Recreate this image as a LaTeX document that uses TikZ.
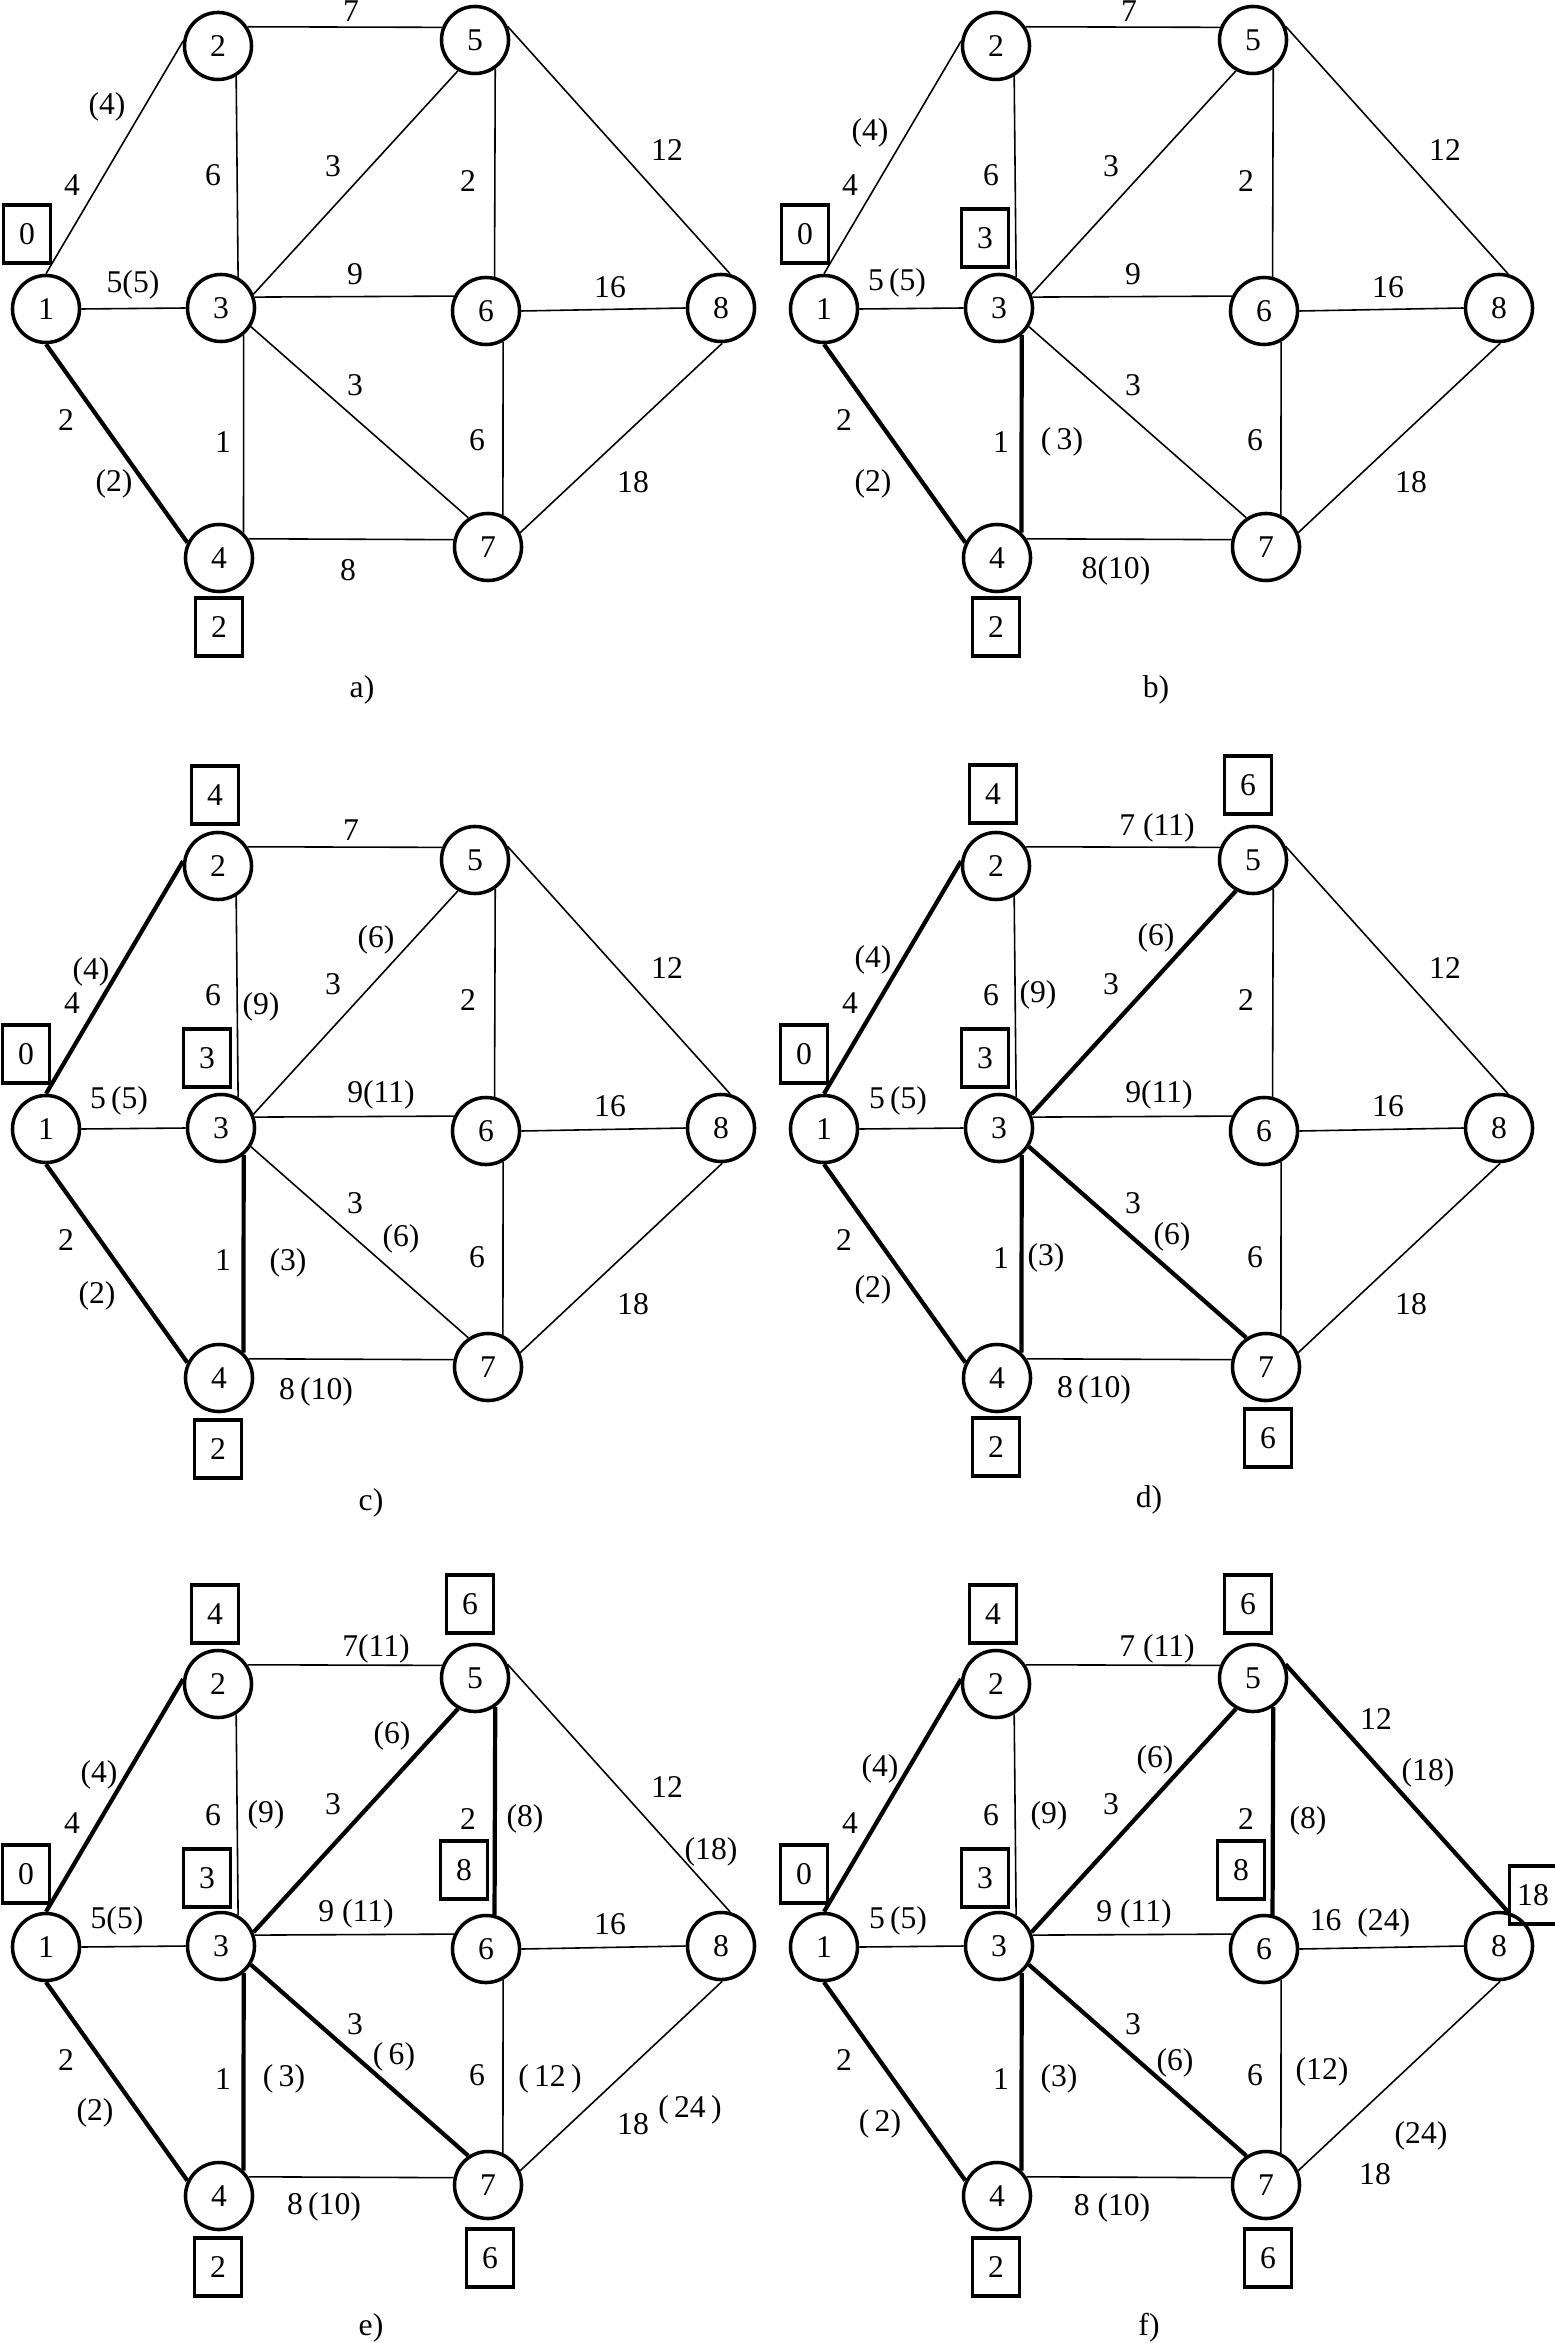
\documentclass[tikz,border=0pt]{standalone}
\usepackage{fontspec}
\setmainfont{Liberation Serif}

\tikzset{
  vtx/.style={circle,draw,line width=1pt,minimum size=0.67cm,inner sep=0pt},
  valbox/.style={rectangle,draw,line width=1pt,minimum width=0.47cm,minimum height=0.58cm,inner sep=0pt},
  lbl/.style={inner sep=1pt},
  arc/.style={line width=0.45pt},
  tree/.style={line width=1.2pt},
  e12/.style={}, e13/.style={}, e14/.style={}, e25/.style={}, e23/.style={},
  e35/.style={}, e36/.style={}, e37/.style={}, e34/.style={}, e47/.style={},
  e56/.style={}, e58/.style={}, e68/.style={}, e67/.style={}, e78/.style={},
}

% nodes and edges of one panel, prefix #1
\newcommand{\basenet}[1]{%
  \node[vtx] (#1n1) at (46,309) {1};
  \node[vtx] (#1n2) at (218,46) {2};
  \node[vtx] (#1n5) at (475,40) {5};
  \node[vtx] (#1n3) at (221,308) {3};
  \node[vtx] (#1n6) at (486,311) {6};
  \node[vtx] (#1n8) at (721,308) {8};
  \node[vtx] (#1n4) at (219,558) {4};
  \node[vtx] (#1n7) at (488,547) {7};
  \draw[arc,e12] (#1n1.90) -- (#1n2.172);
  \draw[arc,e13] (#1n1.east) -- (#1n3.west);
  \draw[arc,e14] (#1n1.-90) -- (#1n4.154);
  \draw[arc,e25] (#1n2.33) -- (#1n5.159);
  \draw[arc,e23] (#1n2.-59) -- (#1n3.61);
  \draw[arc,e35] (#1n3.23) -- (#1n5.-119);
  \draw[arc,e36] (#1n3.18) -- (#1n6.155);
  \draw[arc,e37] (#1n3.-32) -- (#1n7.124);
  \draw[arc,e34] (#1n3.-50) -- (#1n4.46);
  \draw[arc,e47] (#1n4.33) -- (#1n7.168);
  \draw[arc,e56] (#1n5.-55) -- (#1n6.76);
  \draw[arc,e58] (#1n5.23) -- (#1n8.75);
  \draw[arc,e68] (#1n6.east) -- (#1n8.west);
  \draw[arc,e67] (#1n6.-61) -- (#1n7.65);
  \draw[arc,e78] (#1n7.24) -- (#1n8.-88);
}

\begin{document}
\begin{tikzpicture}[x=0.01cm,y=-0.01cm,font=\fontsize{9}{11}\selectfont]
  \useasboundingbox (0,0) rectangle (1554,2343);

  % a)
  \begin{scope}[e14/.style=tree]
    \basenet{a}
    \node[lbl] (aw25) at (351,11) {7};
    \node[lbl] (ad12) at (107,107) {(4)};
    \node[lbl] (aw12) at (72,185) {4};
    \node[lbl] (aw13) at (133,285) {5(5)};
    \node[lbl] (aw23) at (213,175) {6};
    \node[lbl] (aw35) at (333,166) {3};
    \node[lbl] (aw56) at (468,181) {2};
    \node[lbl] (aw58) at (667,150) {12};
    \node[lbl] (aw36) at (355,274) {9};
    \node[lbl] (aw68) at (610,287) {16};
    \node[lbl] (aw37) at (355,385) {3};
    \node[lbl] (aw14) at (66,420) {2};
    \node[lbl] (aw34) at (223,442) {1};
    \node[lbl] (ad14) at (114,484) {(2)};
    \node[lbl] (aw67) at (477,440) {6};
    \node[lbl] (aw78) at (633,482) {18};
    \node[lbl] (aw47) at (348,570) {8};
    \node[valbox] (ab1) at (27,234) {0};
    \node[valbox] (ab4) at (219,627) {2};
    \node (acap) at (362,690) {a)};
  \end{scope}

  % b)
  \begin{scope}[shift={(778,0)},e14/.style=tree,e34/.style=tree]
    \basenet{b}
    \node[lbl] (bw25) at (351,11) {7};
    \node[lbl] (bd12) at (92,133) {(4)};
    \node[lbl] (bw12) at (72,185) {4};
    \node[lbl] (bw13) at (119,283) {5\,(5)};
    \node[lbl] (bw23) at (213,175) {6};
    \node[lbl] (bw35) at (333,166) {3};
    \node[lbl] (bw56) at (468,181) {2};
    \node[lbl] (bw58) at (667,150) {12};
    \node[lbl] (bw36) at (355,274) {9};
    \node[lbl] (bw68) at (610,287) {16};
    \node[lbl] (bw37) at (355,385) {3};
    \node[lbl] (bw14) at (66,420) {2};
    \node[lbl] (bw34) at (223,442) {1};
    \node[lbl] (bd34) at (284,442) {(\,3)};
    \node[lbl] (bd14) at (95,484) {(2)};
    \node[lbl] (bw67) at (477,440) {6};
    \node[lbl] (bw78) at (633,482) {18};
    \node[lbl] (bw47) at (338,571) {8(10)};
    \node[valbox] (bb1) at (27,234) {0};
    \node[valbox] (bb3) at (207,238) {3};
    \node[valbox] (bb4) at (218,627) {2};
    \node (bcap) at (378,690) {b)};
  \end{scope}

  % c)
  \begin{scope}[shift={(0,820)},e12/.style=tree,e14/.style=tree,e34/.style=tree]
    \basenet{c}
    \node[valbox] (cb2) at (215,-25) {4};
    \node[lbl] (cw25) at (351,10) {7};
    \node[lbl] (cd12) at (91,152) {(4)};
    \node[lbl] (cw12) at (72,183) {4};
    \node[lbl] (cw23) at (213,175) {6};
    \node[lbl] (cd23) at (261,187) {(9)};
    \node[lbl] (cd35) at (376,120) {(6)};
    \node[lbl] (cw35) at (333,164) {3};
    \node[lbl] (cw58) at (667,148) {12};
    \node[lbl] (cw56) at (468,180) {2};
    \node[lbl] (cw13) at (119,281) {5\,(5)};
    \node[lbl] (cw36) at (381,275) {9(11)};
    \node[lbl] (cw68) at (610,286) {16};
    \node[lbl] (cw37) at (355,383) {3};
    \node[lbl] (cd37) at (401,419) {(6)};
    \node[lbl] (cw14) at (66,420) {2};
    \node[lbl] (cw34) at (223,440) {1};
    \node[lbl] (cd34) at (288,443) {(3)};
    \node[lbl] (cw67) at (477,437) {6};
    \node[lbl] (cd14) at (97,476) {(2)};
    \node[lbl] (cw78) at (633,484) {18};
    \node[lbl] (cw47) at (316,572) {8\,(10)};
    \node[valbox] (cb1) at (26,234) {0};
    \node[valbox] (cb3) at (207,238) {3};
    \node[valbox] (cb4) at (218,629) {2};
    \node (ccap) at (371,683) {c)};
  \end{scope}

  % d)
  \begin{scope}[shift={(778,820)},e12/.style=tree,e14/.style=tree,e34/.style=tree,
                e35/.style=tree,e37/.style=tree]
    \basenet{d}
    \node[valbox] (db2) at (215,-26) {4};
    \node[valbox] (db5) at (470,-35) {6};
    \node[lbl] (dw25) at (379,8) {7 (11)};
    \node[lbl] (dd12) at (95,140) {(4)};
    \node[lbl] (dw12) at (72,183) {4};
    \node[lbl] (dw23) at (213,175) {6};
    \node[lbl] (dd23) at (260,175) {(9)};
    \node[lbl] (dd35) at (378,118) {(6)};
    \node[lbl] (dw35) at (333,164) {3};
    \node[lbl] (dw58) at (667,148) {12};
    \node[lbl] (dw56) at (468,180) {2};
    \node[lbl] (dw13) at (120,281) {5\,(5)};
    \node[lbl] (dw36) at (381,275) {9(11)};
    \node[lbl] (dw68) at (610,286) {16};
    \node[lbl] (dw37) at (355,383) {3};
    \node[lbl] (dd37) at (394,417) {(6)};
    \node[lbl] (dw14) at (66,420) {2};
    \node[lbl] (dw34) at (223,438) {1};
    \node[lbl] (dd34) at (268,438) {(3)};
    \node[lbl] (dw67) at (477,437) {6};
    \node[lbl] (dd14) at (95,470) {(2)};
    \node[lbl] (dw78) at (633,484) {18};
    \node[lbl] (dw47) at (316,570) {8\,(10)};
    \node[valbox] (db1) at (26,234) {0};
    \node[valbox] (db3) at (207,238) {3};
    \node[valbox] (db4) at (218,627) {2};
    \node[valbox] (db7) at (490,618) {6};
    \node (dcap) at (371,680) {d)};
  \end{scope}

  % e)
  \begin{scope}[shift={(0,1638)},e12/.style=tree,e14/.style=tree,e34/.style=tree,
                e35/.style=tree,e37/.style=tree,e56/.style=tree]
    \basenet{e}
    \node[valbox] (eb2) at (215,-24) {4};
    \node[valbox] (eb5) at (470,-34) {6};
    \node[lbl] (ew25) at (376,11) {7(11)};
    \node[lbl] (ed12) at (99,137) {(4)};
    \node[lbl] (ew12) at (72,185) {4};
    \node[lbl] (ed35) at (392,98) {(6)};
    \node[lbl] (ew35) at (333,166) {3};
    \node[lbl] (ew23) at (213,177) {6};
    \node[lbl] (ed23) at (266,177) {(9)};
    \node[lbl] (ew56) at (468,181) {2};
    \node[lbl] (ed56) at (525,181) {(8)};
    \node[lbl] (ew58) at (667,149) {12};
    \node[lbl] (ed58) at (711,214) {(18)};
    \node[valbox] (eb1) at (26,236) {0};
    \node[valbox] (eb3) at (207,240) {3};
    \node[valbox] (eb6) at (464,232) {8};
    \node[lbl] (ew13) at (117,283) {5(5)};
    \node[lbl] (ew36) at (356,276) {9 (11)};
    \node[lbl] (ew68) at (610,286) {16};
    \node[lbl] (ew37) at (355,386) {3};
    \node[lbl] (ed37) at (394,419) {(\,6)};
    \node[lbl] (ew14) at (66,422) {2};
    \node[lbl] (ew34) at (223,441) {1};
    \node[lbl] (ed34) at (284,441) {(\,3)};
    \node[lbl] (ew67) at (477,437) {6};
    \node[lbl] (ed67) at (550,441) {(\,12\,)};
    \node[lbl] (ed14) at (95,475) {(2)};
    \node[lbl] (ew78) at (633,486) {18};
    \node[lbl] (ed78) at (690,472) {(\,24\,)};
    \node[lbl] (ew47) at (324,569) {8\,(10)};
    \node[valbox] (eb4) at (218,629) {2};
    \node[valbox] (eb7) at (490,620) {6};
    \node (ecap) at (371,690) {e)};
  \end{scope}

  % f)
  \begin{scope}[shift={(778,1638)},e12/.style=tree,e14/.style=tree,e34/.style=tree,
                e35/.style=tree,e37/.style=tree,e56/.style=tree,e58/.style=tree]
    \basenet{f}
    \node[valbox] (fb2) at (215,-24) {4};
    \node[valbox] (fb5) at (470,-34) {6};
    \node[lbl] (fw25) at (379,11) {7 (11)};
    \node[lbl] (fw58) at (598,81) {12};
    \node[lbl] (fd58) at (650,135) {(18)};
    \node[lbl] (fd12) at (102,131) {(4)};
    \node[lbl] (fw12) at (72,185) {4};
    \node[lbl] (fd35) at (377,122) {(6)};
    \node[lbl] (fw35) at (333,166) {3};
    \node[lbl] (fw23) at (213,177) {6};
    \node[lbl] (fd23) at (271,178) {(9)};
    \node[lbl] (fw56) at (468,181) {2};
    \node[lbl] (fd56) at (530,183) {(8)};
    \node[valbox] (fb6) at (463,232) {8};
    \node[valbox] (fb8) at (755,257) {18};
    \node[valbox] (fb1) at (26,236) {0};
    \node[valbox] (fb3) at (207,240) {3};
    \node[lbl] (fw13) at (120,283) {5\,(5)};
    \node[lbl] (fw36) at (356,276) {9 (11)};
    \node[lbl] (fw68) at (582,285) {16\ \ (24)};
    \node[lbl] (fw37) at (355,386) {3};
    \node[lbl] (fd37) at (397,425) {(6)};
    \node[lbl] (fw14) at (66,422) {2};
    \node[lbl] (fw34) at (223,441) {1};
    \node[lbl] (fd34) at (281,441) {(3)};
    \node[lbl] (fw67) at (477,437) {6};
    \node[lbl] (fd67) at (544,434) {(12)};
    \node[lbl] (fd14) at (102,486) {(\,2)};
    \node[lbl] (fd78) at (643,498) {(24)};
    \node[lbl] (fw78) at (597,536) {18};
    \node[lbl] (fw47) at (334,570) {8 (10)};
    \node[valbox] (fb4) at (218,629) {2};
    \node[valbox] (fb7) at (490,620) {6};
    \node (fcap) at (371,690) {f)};
  \end{scope}
\end{tikzpicture}
\end{document}
